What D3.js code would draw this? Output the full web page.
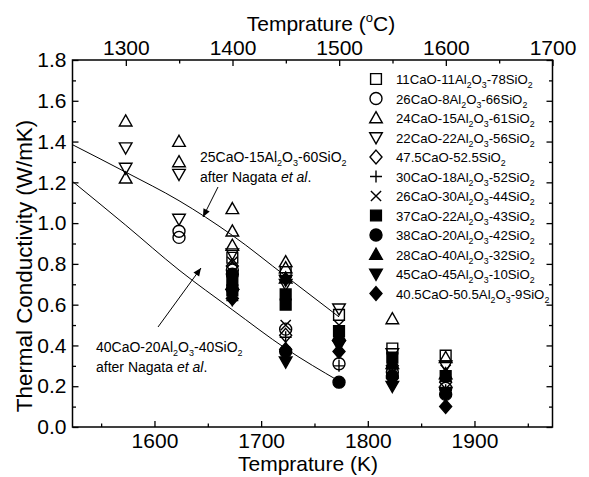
<!DOCTYPE html>
<html>
<head>
<meta charset="utf-8">
<script src="https://cdn.jsdelivr.net/npm/d3@7"></script>
<style>
  body { margin: 0; background: #fff; }
  svg { font-family: Arial, "Liberation Sans", sans-serif; }
</style>
</head>
<body>
<svg id="chart" width="589" height="477"></svg>
<script>
// series names, in legend order ("_2" = subscript)
const seriesNames = [
  "11CaO-11Al_2O_3-78SiO_2",
  "26CaO-8Al_2O_3-66SiO_2",
  "24CaO-15Al_2O_3-61SiO_2",
  "22CaO-22Al_2O_3-56SiO_2",
  "47.5CaO-52.5SiO_2",
  "30CaO-18Al_2O_3-52SiO_2",
  "26CaO-30Al_2O_3-44SiO_2",
  "37CaO-22Al_2O_3-43SiO_2",
  "38CaO-20Al_2O_3-42SiO_2",
  "28CaO-40Al_2O_3-32SiO_2",
  "45CaO-45Al_2O_3-10SiO_2",
  "40.5CaO-50.5Al_2O_3-9SiO_2"
];
const symbolTypes = ["square", "circle", "triUp", "triDown", "diamond", "plus",
  "cross", "square", "circle", "triUp", "triDown", "diamond"];
const symbolFilled = [false, false, false, false, false, false,
  false, true, true, true, true, true];

// measurements: [temperature K, conductivity W/mK]
const s11CaO = [[1673, 0.83], [1723, 0.76], [1773, 0.55], [1823, 0.385], [1873, 0.35]];
const s26CaO8 = [[1623, 0.96], [1623, 0.93], [1673, 0.77], [1723, 0.48], [1773, 0.31], [1823, 0.27], [1873, 0.19]];
const s24CaO = [[1573, 1.50], [1573, 1.22], [1623, 1.40], [1623, 1.30], [1673, 1.07], [1673, 0.96],
  [1673, 0.89], [1723, 0.81], [1723, 0.78], [1823, 0.53], [1873, 0.34]];
const s22CaO = [[1573, 1.37], [1573, 1.27], [1623, 1.24], [1623, 1.02], [1673, 0.85], [1723, 0.70],
  [1773, 0.58], [1823, 0.36], [1873, 0.30]];
const s47CaO = [[1673, 0.79], [1723, 0.45], [1773, 0.42], [1823, 0.30], [1873, 0.22]];
const s30CaO = [[1673, 0.62], [1723, 0.44], [1773, 0.30], [1823, 0.28], [1873, 0.18]];
const s26CaO30 = [[1673, 0.81], [1723, 0.50], [1773, 0.50], [1823, 0.33], [1873, 0.28]];
const s37CaO = [[1673, 0.72], [1673, 0.67], [1723, 0.65], [1723, 0.60], [1773, 0.47], [1823, 0.34], [1873, 0.25]];
const s38CaO = [[1673, 0.75], [1723, 0.37], [1773, 0.22], [1823, 0.25], [1873, 0.16]];
const s28CaO = [[1673, 0.70], [1723, 0.73], [1773, 0.45], [1823, 0.31], [1873, 0.26]];
const s45CaO = [[1673, 0.65], [1723, 0.72], [1723, 0.32], [1773, 0.40], [1823, 0.20], [1873, 0.17]];
const s40CaO = [[1673, 0.63], [1723, 0.38], [1773, 0.37], [1823, 0.24], [1873, 0.10]];
const allSeries = [s11CaO, s26CaO8, s24CaO, s22CaO, s47CaO, s30CaO, s26CaO30,
  s37CaO, s38CaO, s28CaO, s45CaO, s40CaO];

// Nagata et al. curves
const nagataTemps = [1523, 1573, 1623, 1673, 1723, 1773];
const nagata25CaO = [1.385, 1.25, 1.11, 0.94, 0.74, 0.54];
const nagata40CaO = [1.205, 0.99, 0.77, 0.575, 0.385, 0.225];

// ticks
const kTicks = [1600, 1700, 1800, 1900];
const kMinor = [1550, 1650, 1750, 1850, 1950];
const cTicks = [1300, 1400, 1500, 1600, 1700];
const cMinor = [1350, 1450, 1550, 1650];
const yTicks = [0, 0.2, 0.4, 0.6, 0.8, 1.0, 1.2, 1.4, 1.6, 1.8];
const yMinor = [0.1, 0.3, 0.5, 0.7, 0.9, 1.1, 1.3, 1.5, 1.7];

const plotLeft = 72.5, plotRight = 552.5, plotTop = 60, plotBottom = 427;

const svg = d3.select("#chart");
const x = d3.scaleLinear().domain([1523.15, 1973.15]).range([plotLeft, plotRight]);
const xC = d3.scaleLinear().domain([1250, 1700]).range([plotLeft, plotRight]);
const y = d3.scaleLinear().domain([0, 1.8]).range([plotBottom, plotTop]);

// text with _n subscripts
function richText(sel, str, subSize, subShift) {
  const parts = str.split(/_(\d)/);
  parts.forEach((p, i) => {
    if (!p) return;
    if (i % 2 === 1) {
      sel.append("tspan").attr("font-size", subSize).attr("dy", subShift).text(p);
    } else {
      sel.append("tspan").attr("dy", i > 0 ? -subShift : 0).text(p);
    }
  });
}

function symbolPath(type, r) {
  switch (type) {
    case "square": { const s = r * 0.9; return `M${-s},${-s}H${s}V${s}H${-s}Z`; }
    case "circle": return `M${r},0A${r},${r} 0 1,1 ${-r},0A${r},${r} 0 1,1 ${r},0Z`;
    case "triUp": return `M0,${-r * 1.05}L${r * 1.05},${r * 0.8}L${-r * 1.05},${r * 0.8}Z`;
    case "triDown": return `M0,${r * 1.05}L${r * 1.05},${-r * 0.8}L${-r * 1.05},${-r * 0.8}Z`;
    case "diamond": return `M0,${-r * 1.15}L${r},0L0,${r * 1.15}L${-r},0Z`;
    case "plus": return `M${-r},0H${r}M0,${-r}V${r}`;
    case "cross": { const s = r * 0.85; return `M${-s},${-s}L${s},${s}M${-s},${s}L${s},${-s}`; }
  }
}

function drawSymbol(g, i, cx, cy) {
  g.append("path")
    .attr("d", symbolPath(symbolTypes[i], 6))
    .attr("transform", `translate(${cx},${cy})`)
    .attr("fill", symbolFilled[i] ? "#000" : "none")
    .attr("stroke", "#000")
    .attr("stroke-width", 1.4);
}

// axes (ticks point inward)
const axisFont = 21;
svg.append("g").attr("transform", `translate(0,${plotBottom})`)
  .call(d3.axisBottom(x).tickValues(kTicks).tickSize(-6).tickSizeOuter(0).tickPadding(6).tickFormat(d3.format("d")));
svg.append("g").attr("transform", `translate(0,${plotBottom})`)
  .call(d3.axisBottom(x).tickValues(kMinor).tickSize(-3.5).tickSizeOuter(0).tickFormat(""));
svg.append("g").attr("transform", `translate(0,${plotTop})`)
  .call(d3.axisTop(xC).tickValues(cTicks).tickSize(-6).tickSizeOuter(0).tickPadding(5).tickFormat(d3.format("d")));
svg.append("g").attr("transform", `translate(0,${plotTop})`)
  .call(d3.axisTop(xC).tickValues(cMinor).tickSize(-3.5).tickSizeOuter(0).tickFormat(""));
svg.append("g").attr("transform", `translate(${plotLeft},0)`)
  .call(d3.axisLeft(y).tickValues(yTicks).tickSize(-6).tickSizeOuter(0).tickPadding(6).tickFormat(d3.format(".1f")));
svg.append("g").attr("transform", `translate(${plotLeft},0)`)
  .call(d3.axisLeft(y).tickValues(yMinor).tickSize(-3.5).tickSizeOuter(0).tickFormat(""));
svg.append("g").attr("transform", `translate(${plotRight},0)`)
  .call(d3.axisRight(y).tickValues(yTicks).tickSize(-6).tickSizeOuter(0).tickFormat(""));
svg.append("g").attr("transform", `translate(${plotRight},0)`)
  .call(d3.axisRight(y).tickValues(yMinor).tickSize(-3.5).tickSizeOuter(0).tickFormat(""));

svg.selectAll(".domain").remove();
svg.selectAll(".tick line").attr("stroke", "#000").attr("stroke-width", 1.3);
svg.selectAll(".tick text").attr("font-size", axisFont).attr("fill", "#000")
  .attr("font-family", "Arial, 'Liberation Sans', sans-serif");

svg.append("rect")
  .attr("x", plotLeft).attr("y", plotTop)
  .attr("width", plotRight - plotLeft).attr("height", plotBottom - plotTop)
  .attr("fill", "none").attr("stroke", "#000").attr("stroke-width", 1.5);

// axis titles
svg.append("text").attr("x", 308).attr("y", 471)
  .attr("text-anchor", "middle").attr("font-size", axisFont).text("Temprature (K)");
const topTitle = svg.append("text").attr("x", 321).attr("y", 31)
  .attr("text-anchor", "middle").attr("font-size", axisFont);
topTitle.append("tspan").text("Temprature (");
topTitle.append("tspan").attr("font-size", 13).attr("dy", -9).text("o");
topTitle.append("tspan").attr("dy", 9).text("C)");
svg.append("text")
  .attr("transform", `translate(32,266) rotate(-90)`)
  .attr("text-anchor", "middle").attr("font-size", 22.4)
  .text("Thermal Conductivity (W/mK)");

// Nagata curves
const line = d3.line().x(d => x(d[0])).y(d => y(d[1])).curve(d3.curveMonotoneX);
[nagata25CaO, nagata40CaO].forEach(vals => {
  svg.append("path")
    .datum(nagataTemps.map((t, i) => [t, vals[i]]))
    .attr("d", line)
    .attr("fill", "none").attr("stroke", "#000").attr("stroke-width", 1);
});

// data points
const gPts = svg.append("g");
allSeries.forEach((pts, i) => {
  pts.forEach(p => drawSymbol(gPts, i, x(p[0]), y(p[1])));
});

// legend
const legendX = 376, legendY = 79, legendStep = 19.5;
seriesNames.forEach((name, i) => {
  const cy = legendY + i * legendStep;
  drawSymbol(svg, i, legendX, cy);
  const t = svg.append("text").attr("x", legendX + 20).attr("y", cy + 5).attr("font-size", 13.2);
  richText(t, name, 8.8, 4);
});

// annotations
function annotation(tx, ty, label, ax1, ay1, ax2, ay2) {
  const t1 = svg.append("text").attr("x", tx).attr("y", ty).attr("font-size", 14);
  richText(t1, label, 9, 4);
  const t2 = svg.append("text").attr("x", tx).attr("y", ty + 20).attr("font-size", 14);
  t2.append("tspan").text("after Nagata ");
  t2.append("tspan").attr("font-style", "italic").text("et al");
  t2.append("tspan").text(".");
  svg.append("line").attr("x1", ax1).attr("y1", ay1).attr("x2", ax2).attr("y2", ay2)
    .attr("stroke", "#000").attr("stroke-width", 1);
  const ang = Math.atan2(ay2 - ay1, ax2 - ax1) * 180 / Math.PI;
  svg.append("path").attr("d", "M0,0L-8,-3.5L-8,3.5Z")
    .attr("transform", `translate(${ax2},${ay2}) rotate(${ang})`)
    .attr("fill", "#000");
}
annotation(200, 162, "25CaO-15Al_2O_3-60SiO_2", 218, 187, 203, 217);
annotation(96, 352, "40CaO-20Al_2O_3-40SiO_2", 158, 327, 201, 268);
</script>
</body>
</html>
